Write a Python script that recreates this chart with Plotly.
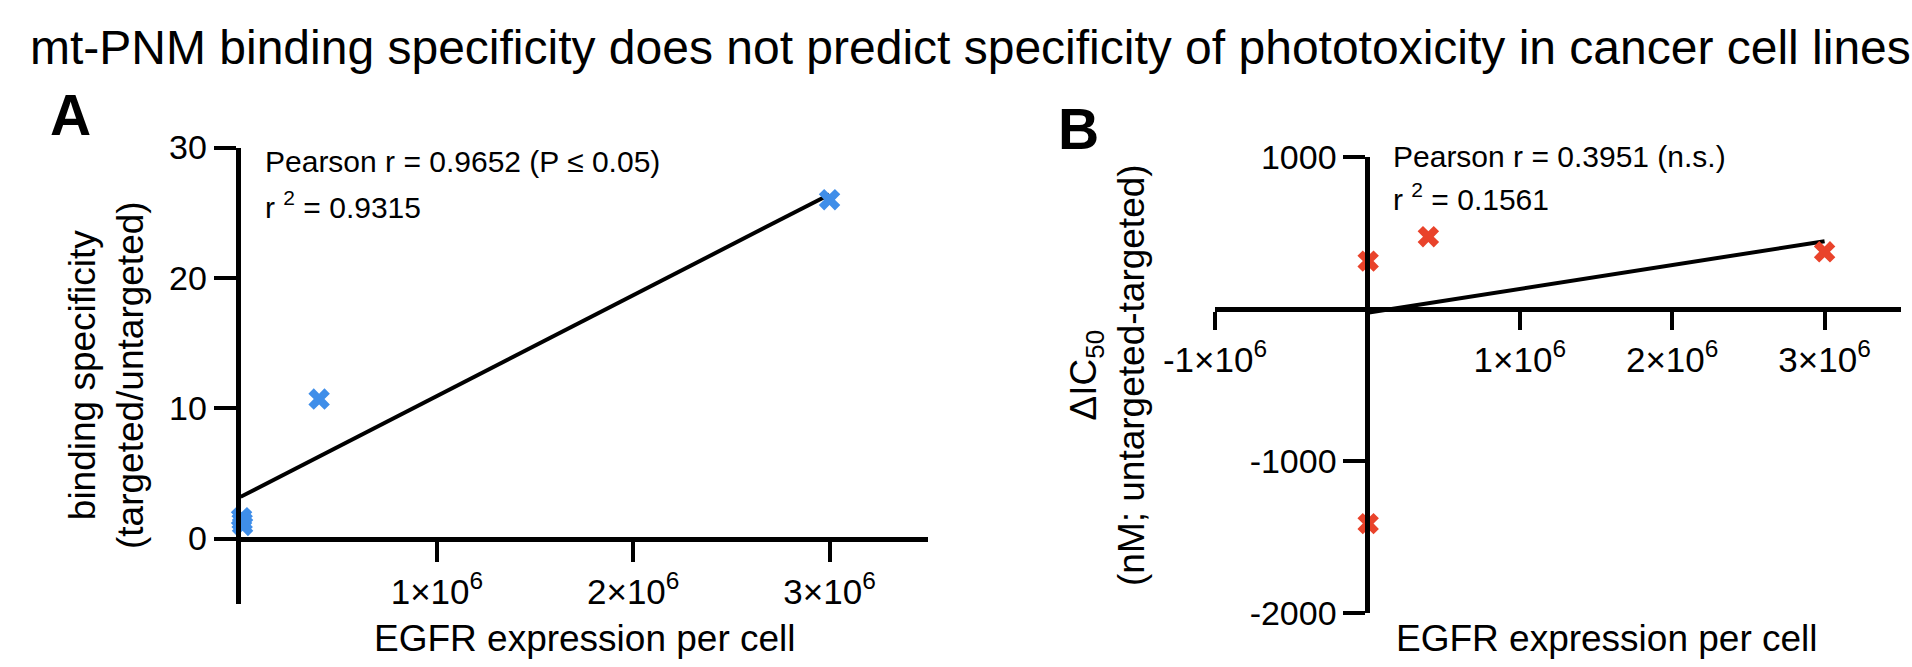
import plotly.graph_objects as go

# ---------------- data ----------------
egfr_a = [5e3, 8e3, 1.0e4, 0.4e6, 3.0e6]
binding_spec = [1.6, 1.3, 1.0, 10.7, 26.0]
fit_a_x = [0.0, 3.0e6]
fit_a_y = [3.2, 26.4]

egfr_b = [5e3, 5e3, 0.4e6, 3.0e6]
delta_ic50 = [315, -1412, 476, 376]
fit_b_x = [0.0, 3.0e6]
fit_b_y = [-25, 446]

xtick_vals_a = [1e6, 2e6, 3e6]
xtick_text_a = ["1×10<sup>6</sup>", "2×10<sup>6</sup>", "3×10<sup>6</sup>"]
ytick_vals_a = [0, 10, 20, 30]
ytick_text_a = ["0", "10", "20", "30"]
xtick_vals_b = [-1e6, 1e6, 2e6, 3e6]
xtick_text_b = ["-1×10<sup>6</sup>", "1×10<sup>6</sup>", "2×10<sup>6</sup>", "3×10<sup>6</sup>"]
ytick_vals_b = [1000, -1000, -2000]
ytick_text_b = ["1000", "-1000", "-2000"]

title = "mt-PNM binding specificity does not predict specificity of phototoxicity in cancer cell lines"

# ---------------- layout ----------------
W, H = 1912, 667
FONT = "Liberation Sans, Arial, sans-serif"
BLUE = "#3f8ee9"
RED = "#e9432b"

xr_a, yr_a = [0, 3.5e6], [-5, 30]
xr_b, yr_b = [-1e6, 3.5e6], [-2000, 1000]
xdom_a = [240.6 / W, 927.7 / W]
ydom_a = [1 - 603.7 / H, 1 - 147.5 / H]
xdom_b = [1215 / W, 1900.8 / W]
ydom_b = [1 - 613 / H, 1 - 157 / H]


def frac(v, r, d):
    return d[0] + (v - r[0]) / (r[1] - r[0]) * (d[1] - d[0])


fig = go.Figure()
fig.add_trace(go.Scatter(x=fit_a_x, y=fit_a_y, mode="lines", line=dict(color="black", width=4),
                         xaxis="x", yaxis="y", showlegend=False, cliponaxis=False))
fig.add_trace(go.Scatter(x=egfr_a, y=binding_spec, mode="markers",
                         marker=dict(symbol="x", size=19, color=BLUE, line=dict(width=0)),
                         xaxis="x", yaxis="y", showlegend=False, cliponaxis=False))
fig.add_trace(go.Scatter(x=fit_b_x, y=fit_b_y, mode="lines", line=dict(color="black", width=4),
                         xaxis="x2", yaxis="y2", showlegend=False, cliponaxis=False))
fig.add_trace(go.Scatter(x=egfr_b, y=delta_ic50, mode="markers",
                         marker=dict(symbol="x", size=19, color=RED, line=dict(width=0)),
                         xaxis="x2", yaxis="y2", showlegend=False, cliponaxis=False))

axis_common = dict(showgrid=False, zeroline=False, showline=True, linecolor="black", linewidth=5,
                   ticks="outside", tickwidth=4, tickcolor="black", automargin=False,
                   tickmode="array")
xfont = dict(family=FONT, size=35, color="black")
yfont = dict(family=FONT, size=34, color="black")

fig.update_layout(
    template="none",
    width=W, height=H, margin=dict(l=0, r=0, t=0, b=0, pad=0, autoexpand=False),
    paper_bgcolor="white", plot_bgcolor="white", showlegend=False,
    xaxis=dict(domain=xdom_a, range=xr_a, anchor="free", position=frac(0, yr_a, ydom_a),
               tickvals=xtick_vals_a, ticktext=xtick_text_a, ticklen=20, tickfont=xfont, **axis_common),
    yaxis=dict(domain=ydom_a, range=yr_a, anchor="x", tickvals=ytick_vals_a, ticktext=ytick_text_a,
               ticklen=22, tickfont=yfont, **axis_common),
    xaxis2=dict(domain=xdom_b, range=xr_b, anchor="free", position=frac(0, yr_b, ydom_b),
                tickvals=xtick_vals_b, ticktext=xtick_text_b, ticklen=18, tickfont=xfont, **axis_common),
    yaxis2=dict(domain=ydom_b, range=yr_b, anchor="free", position=frac(0, xr_b, xdom_b),
                tickvals=ytick_vals_b, ticktext=ytick_text_b, ticklen=22, tickfont=yfont, **axis_common),
)


def ann(text, x, y, size, xanchor="center", yanchor="middle", bold=False, angle=0):
    fig.add_annotation(text=f"<b>{text}</b>" if bold else text, x=x / W, y=1 - y / H,
                       xref="paper", yref="paper", xanchor=xanchor, yanchor=yanchor,
                       showarrow=False, textangle=angle,
                       font=dict(family=FONT, size=size, color="black"))


ann(title, 970, 47, 48)
ann("A", 70, 115, 57, bold=True)
ann("B", 1078, 129, 57, bold=True)

ann("Pearson r = 0.9652 (P ≤ 0.05)", 263, 161, 30, xanchor="left")
ann("r <sup>2</sup> = 0.9315", 263, 205, 30, xanchor="left")
ann("Pearson r = 0.3951 (n.s.)", 1391, 156, 30, xanchor="left")
ann("r <sup>2</sup> = 0.1561", 1391, 197, 30, xanchor="left")

ann("EGFR expression per cell", 585, 638, 37)
ann("EGFR expression per cell", 1607, 638, 37)
ann("binding specificity<br>(targeted/untargeted)", 106, 375, 37, angle=-90)
ann("ΔIC<sub>50</sub><br>(nM; untargeted-targeted)", 1107, 375, 37, angle=-90)

fig.write_html("out.html", config={"displayModeBar": False},
               post_script="document.body.style.margin='0px';document.body.style.overflow='hidden';")
